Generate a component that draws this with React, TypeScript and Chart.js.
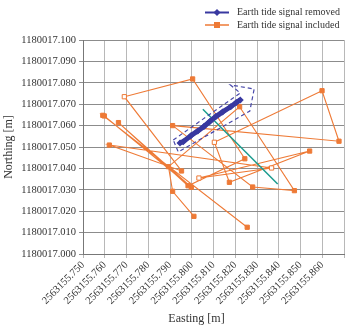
import React, { useEffect, useRef } from 'react';
import { Chart, registerables } from 'chart.js';

Chart.register(...registerables);

// ---- Data ----
const X_MIN = 2563155.75;
const X_MAX = 2563155.87;
const X_STEP = 0.01;
const Y_MIN = 1180017.0;
const Y_MAX = 1180017.1;
const Y_STEP = 0.01;

const seriesNames = ['Earth tide signal removed', 'Earth tide signal included'];

// Earth tide signal included (orange), in time order
const includedEasting = [
  2563155.8255, 2563155.7591, 2563155.7598, 2563155.7998, 2563155.7663,
  2563155.7983, 2563155.8244, 2563155.8004, 2563155.769, 2563155.7953,
  2563155.7621, 2563155.8367, 2563155.8033, 2563155.8542, 2563155.8173,
  2563155.8104, 2563155.8599, 2563155.8677, 2563155.7912, 2563155.828,
  2563155.8472, 2563155.822, 2563155.7893, 2563155.7912, 2563155.801,
];
const includedNorthing = [
  1180017.0125, 1180017.0648, 1180017.0645, 1180017.0312, 1180017.0614,
  1180017.0319, 1180017.0445, 1180017.0818, 1180017.0735, 1180017.0388,
  1180017.0509, 1180017.0402, 1180017.0355, 1180017.0481, 1180017.0335,
  1180017.0522, 1180017.0763, 1180017.0527, 1180017.06, 1180017.0313,
  1180017.0296, 1180017.0688, 1180017.0408, 1180017.0293, 1180017.0176,
];
const includedOpen = [
  false, false, false, false, false, false, false, false, true, false,
  false, true, true, false, false, true, false, false, false, false,
  false, false, false, false, false,
];

// Earth tide signal removed (blue)
const removedEasting = [
  2563155.7946, 2563155.7961, 2563155.7997, 2563155.8028, 2563155.8056,
  2563155.8083, 2563155.8111, 2563155.8142, 2563155.8179, 2563155.8205,
  2563155.8223,
];
const removedNorthing = [
  1180017.0519, 1180017.0525, 1180017.0554, 1180017.0575, 1180017.0596,
  1180017.0619, 1180017.0642, 1180017.0664, 1180017.0688, 1180017.0708,
  1180017.072,
];

// Dashed outline (arrow) around the removed series
const outlineEasting = [
  2563155.7915, 2563155.8223, 2563155.8178, 2563155.8287, 2563155.8267,
  2563155.7938, 2563155.7915,
];
const outlineNorthing = [
  1180017.0533, 1180017.0752, 1180017.079, 1180017.0771, 1180017.0668,
  1180017.0477, 1180017.0533,
];

// Teal trend line
const trendEasting = [2563155.8051, 2563155.8395];
const trendNorthing = [1180017.0676, 1180017.0327];

// ---- Styles ----
const ORANGE = '#ee7a36';
const BLUE = '#3838a0';
const DASH_BLUE = '#4848aa';
const TEAL = '#1c9c8e';
const FONT = '"Liberation Serif", "Times New Roman", serif';
const TEXT = '#333333';

const zip = (xs: number[], ys: number[]) => xs.map((x, i) => ({ x, y: ys[i] }));

const overlayPlugin = {
  id: 'overlay',
  afterDraw(chart: any) {
    const ctx = chart.ctx as CanvasRenderingContext2D;
    ctx.save();
    // Legend
    const items = [
      { label: seriesNames[0], color: BLUE, y: 12.5, lw: 2, marker: 'diamond' },
      { label: seriesNames[1], color: ORANGE, y: 25, lw: 1.5, marker: 'square' },
    ];
    for (const it of items) {
      ctx.strokeStyle = it.color;
      ctx.lineWidth = it.lw;
      ctx.beginPath();
      ctx.moveTo(205, it.y);
      ctx.lineTo(229, it.y);
      ctx.stroke();
      ctx.fillStyle = it.color;
      const cx = 217;
      if (it.marker === 'diamond') {
        ctx.beginPath();
        ctx.moveTo(cx, it.y - 3.5);
        ctx.lineTo(cx + 3.5, it.y);
        ctx.lineTo(cx, it.y + 3.5);
        ctx.lineTo(cx - 3.5, it.y);
        ctx.closePath();
        ctx.fill();
      } else {
        ctx.fillRect(cx - 3, it.y - 3, 6, 6);
      }
      ctx.fillStyle = TEXT;
      ctx.font = `10px ${FONT}`;
      ctx.textAlign = 'left';
      ctx.textBaseline = 'middle';
      ctx.fillText(it.label, 237, it.y);
    }
    // X title
    ctx.fillStyle = TEXT;
    ctx.font = `12px ${FONT}`;
    ctx.textAlign = 'center';
    ctx.textBaseline = 'middle';
    ctx.fillText('Easting [m]', 196.5, 319);
    ctx.restore();
  },
};

export default function App() {
  const ref = useRef<HTMLCanvasElement | null>(null);

  useEffect(() => {
    if (!ref.current) return;
    const chart = new Chart(ref.current, {
      type: 'scatter',
      data: {
        datasets: [
          {
            label: seriesNames[0],
            data: zip(removedEasting, removedNorthing),
            showLine: true,
            borderColor: BLUE,
            backgroundColor: BLUE,
            borderWidth: 5,
            pointStyle: 'rectRot',
            pointRadius: 3.5,
            pointBorderWidth: 0,
          },
          {
            label: 'outline',
            data: zip(outlineEasting, outlineNorthing),
            showLine: true,
            borderColor: DASH_BLUE,
            borderWidth: 1.2,
            borderDash: [4, 3],
            pointRadius: 0,
            fill: false,
          },
          {
            label: 'trend',
            data: zip(trendEasting, trendNorthing),
            showLine: true,
            borderColor: TEAL,
            borderWidth: 1.5,
            pointRadius: 0,
          },
          {
            label: seriesNames[1],
            data: zip(includedEasting, includedNorthing),
            showLine: true,
            borderColor: ORANGE,
            backgroundColor: ORANGE,
            borderWidth: 1.1,
            pointStyle: 'rect',
            pointRadius: 3,
            pointBorderWidth: 1,
            pointBorderColor: ORANGE,
            pointBackgroundColor: includedOpen.map((o) => (o ? '#ffffff' : ORANGE)),
          },
        ],
      },
      options: {
        responsive: false,
        animation: false,
        layout: { padding: { top: 40, right: 0, bottom: 0, left: 0 } },
        plugins: {
          legend: { display: false },
          tooltip: { enabled: false },
          title: { display: false },
        },
        scales: {
          x: {
            type: 'linear',
            min: X_MIN,
            max: X_MAX,
            afterFit: (s: any) => {
              s.height = 75;
              s.paddingRight = 0;
              s.paddingLeft = 0;
            },
            ticks: {
              stepSize: X_STEP,
              autoSkip: false,
              minRotation: 45,
              maxRotation: 45,
              padding: 1,
              color: TEXT,
              font: { family: FONT, size: 10.5 },
              callback: (v: any, i: number, ticks: any[]) =>
                i === ticks.length - 1 ? '' : Number(v).toFixed(3),
            },
            grid: { color: '#b8b8b8', tickLength: 4, lineWidth: 1 },
            border: { color: '#777777' },
          },
          y: {
            type: 'linear',
            min: Y_MIN,
            max: Y_MAX,
            afterFit: (s: any) => {
              s.width = 83;
            },
            ticks: {
              stepSize: Y_STEP,
              padding: 3,
              color: TEXT,
              font: { family: FONT, size: 10.5 },
              callback: (v: any) => Number(v).toFixed(3),
            },
            grid: { color: '#8c8c8c', tickLength: 4, lineWidth: 1 },
            border: { color: '#777777' },
            title: {
              display: true,
              text: 'Northing [m]',
              color: TEXT,
              font: { family: FONT, size: 12 },
              padding: { top: 2, bottom: 0 },
            },
          },
        },
      },
      plugins: [overlayPlugin],
    });
    return () => chart.destroy();
  }, []);

  return (
    <div style={{ position: 'fixed', left: 0, top: 0, width: 349, height: 329, background: '#fff' }}>
      <canvas ref={ref} width={349} height={329} style={{ display: 'block' }} />
    </div>
  );
}
